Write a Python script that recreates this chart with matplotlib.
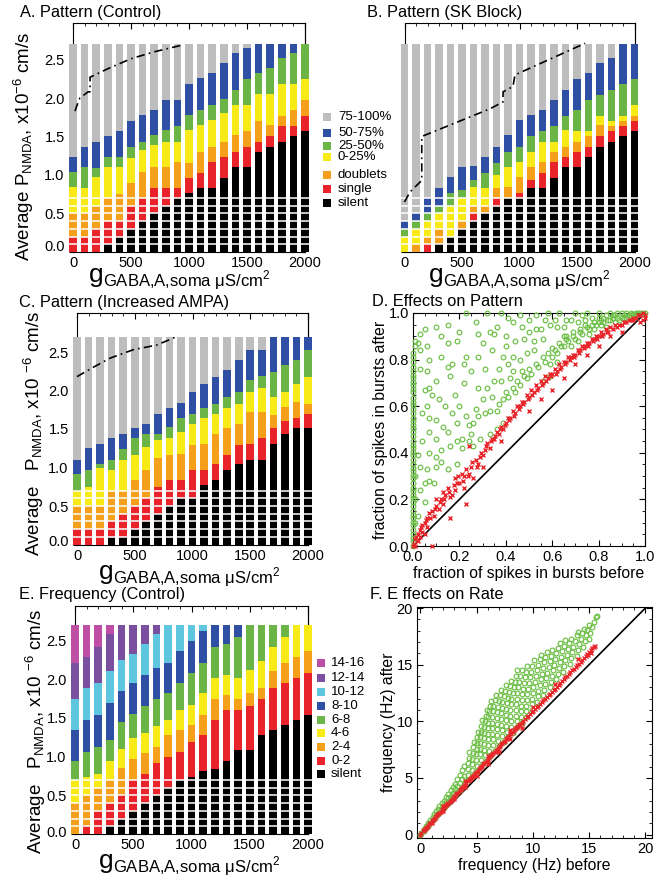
import numpy as np
import matplotlib
matplotlib.use("Agg")
import matplotlib.pyplot as plt
from matplotlib.patches import Rectangle
from matplotlib.ticker import MultipleLocator, FormatStrFormatter
import matplotlib.transforms as mtransforms

plt.rcParams['font.family'] = ['Liberation Sans', 'DejaVu Sans']
plt.rcParams['mathtext.fontset'] = 'custom'
plt.rcParams['mathtext.rm'] = 'Liberation Sans'
plt.rcParams['axes.linewidth'] = 0.8

W, H = 655, 888

# ---------------- data ----------------
gaba = [0, 100, 200, 300, 400, 500, 600, 700, 800, 900, 1000,
        1100, 1200, 1300, 1400, 1500, 1600, 1700, 1800, 1900, 2000]
P_TOP = 2.7
grid_rows = [0.1, 0.2, 0.3, 0.4, 0.5, 0.6, 0.7]

pattern_labels = ['silent', 'single', 'doublets', '0-25%', '25-50%', '50-75%', '75-100%']
pattern_colors = ['#000000', '#e8242a', '#f5a01a', '#f7ea16', '#6ab545', '#2e4fa3', '#bdbdbd']

freq_labels = ['silent', '0-2', '2-4', '4-6', '6-8', '8-10', '10-12', '12-14', '14-16']
freq_colors = ['#000000', '#e8242a', '#f5a01a', '#f7ea16', '#6ab545', '#2e4fa3',
               '#5fc6e0', '#7b4f9f', '#bf4fa4']

# top of each category in every column (x10^-6 cm/s), bottom to top
A_silent = [0, 0, 0, 0.1, 0.2, 0.3, 0.4, 0.5, 0.6, 0.7, 0.76, 0.83, 0.83, 0.96, 1.10, 1.10, 1.30, 1.37, 1.43, 1.51, 1.57]
A_single = [0.2, 0.2, 0.3, 0.4, 0.4, 0.6, 0.7, 0.83, 0.83, 0.83, 0.96, 1.03, 1.17, 1.24, 1.30, 1.37, 1.43, 1.51, 1.64, 1.64, 1.77]
A_doublet = [0.5, 0.5, 0.6, 0.7, 0.75, 0.9, 1.04, 1.10, 1.10, 1.17, 1.15, 1.30, 1.37, 1.43, 1.52, 1.57, 1.70, 1.65, 1.77, 1.85, 1.98]
A_q1 = [0.84, 0.83, 0.98, 1.11, 1.11, 1.22, 1.33, 1.39, 1.43, 1.43, 1.59, 1.65, 1.72, 1.80, 1.91, 1.91, 2.05, 2.05, 2.18, 2.18, 2.25]
A_q2 = [1.04, 1.11, 1.09, 1.24, 1.24, 1.37, 1.43, 1.52, 1.59, 1.63, 1.78, 1.85, 1.91, 1.99, 2.11, 2.25, 2.33, 2.39, 2.52, 2.59, 2.70]
A_q3 = [1.24, 1.37, 1.43, 1.51, 1.57, 1.70, 1.78, 1.85, 1.98, 1.98, 2.18, 2.26, 2.33, 2.46, 2.59, 2.65, 2.70, 2.70, 2.70, 2.70, 2.70]
A_line_x = [17, 50, 60, 130, 147, 147, 300, 500, 700, 950]
A_line_y = [1.83, 1.97, 2.00, 2.08, 2.08, 2.27, 2.38, 2.51, 2.60, 2.69]

B_silent = [0, 0, 0, 0.1, 0.2, 0.3, 0.4, 0.5, 0.6, 0.7, 0.7, 0.83, 0.83, 0.96, 1.10, 1.10, 1.24, 1.37, 1.43, 1.51, 1.57]
B_single = [0, 0, 0.1, 0.1, 0.2, 0.3, 0.5, 0.5, 0.7, 0.7, 0.76, 0.93, 1.03, 1.17, 1.24, 1.30, 1.37, 1.51, 1.57, 1.64, 1.70]
B_doublet = [0, 0.1, 0.2, 0.3, 0.2, 0.4, 0.6, 0.6, 0.83, 0.85, 0.98, 1.10, 1.17, 1.30, 1.37, 1.43, 1.51, 1.65, 1.64, 1.70, 1.77]
B_q1 = [0.2, 0.3, 0.4, 0.5, 0.6, 0.7, 0.85, 0.83, 1.0, 1.11, 1.17, 1.30, 1.43, 1.43, 1.59, 1.57, 1.57, 1.77, 1.70, 1.77, 1.91]
B_q2 = [0.3, 0.4, 0.5, 0.6, 0.77, 0.8, 0.93, 1.03, 1.15, 1.30, 1.37, 1.50, 1.57, 1.64, 1.77, 1.85, 1.98, 2.04, 2.11, 2.18, 2.25]
B_q3 = [0.4, 0.5, 0.7, 0.83, 0.98, 1.1, 1.12, 1.24, 1.37, 1.52, 1.72, 1.78, 1.85, 1.98, 2.11, 2.25, 2.33, 2.46, 2.52, 2.70, 2.70]
B_line_x = [0, 48, 150, 150, 744, 857, 857, 943, 961, 1570]
B_line_y = [0.65, 0.78, 0.93, 1.50, 1.86, 1.95, 2.08, 2.15, 2.30, 2.71]

C_silent = [0, 0, 0, 0.1, 0.1, 0.2, 0.3, 0.4, 0.5, 0.6, 0.6, 0.77, 0.84, 0.97, 1.05, 1.10, 1.10, 1.31, 1.44, 1.51, 1.51]
C_single = [0.2, 0.2, 0.2, 0.3, 0.4, 0.5, 0.6, 0.75, 0.84, 0.84, 0.97, 0.97, 1.05, 1.16, 1.29, 1.31, 1.38, 1.51, 1.60, 1.64, 1.70]
C_doublet = [0.5, 0.5, 0.5, 0.7, 0.7, 0.84, 0.97, 1.12, 1.16, 1.18, 1.29, 1.31, 1.44, 1.51, 1.57, 1.72, 1.72, 1.68, 1.79, 1.85, 1.83]
C_q1 = [0.7, 0.75, 0.99, 0.97, 1.10, 1.16, 1.27, 1.36, 1.38, 1.46, 1.56, 1.64, 1.70, 1.77, 1.83, 1.98, 2.03, 1.92, 1.98, 2.09, 2.18]
C_q2 = [0.92, 0.97, 1.05, 1.10, 1.24, 1.38, 1.44, 1.44, 1.53, 1.64, 1.70, 1.77, 1.83, 1.92, 1.98, 2.13, 2.19, 2.24, 2.33, 2.40, 2.53]
C_q3 = [1.10, 1.25, 1.31, 1.38, 1.44, 1.51, 1.57, 1.70, 1.77, 1.84, 1.98, 2.09, 2.18, 2.26, 2.40, 2.53, 2.53, 2.70, 2.70, 2.70, 2.70]
C_line_x = [0, 127, 286, 488, 690, 848]
C_line_y = [2.18, 2.29, 2.42, 2.53, 2.59, 2.69]

E_silent = [0, 0, 0, 0.1, 0.2, 0.3, 0.4, 0.5, 0.6, 0.7, 0.74, 0.81, 0.84, 0.94, 1.09, 1.09, 1.28, 1.34, 1.41, 1.47, 1.54]
E_f02 = [0, 0.1, 0.3, 0.4, 0.5, 0.7, 0.77, 0.92, 1.0, 1.06, 1.19, 1.28, 1.47, 1.60, 1.60, 1.66, 1.75, 1.88, 1.95, 2.01, 2.08]
E_f24 = [0.4, 0.5, 0.6, 0.7, 0.85, 0.97, 1.05, 1.12, 1.28, 1.34, 1.41, 1.54, 1.75, 1.80, 1.75, 1.82, 1.88, 2.10, 2.21, 2.29, 2.36]
E_f46 = [0.7, 0.74, 0.78, 0.94, 1.10, 1.24, 1.30, 1.40, 1.47, 1.60, 1.67, 1.82, 2.01, 2.05, 2.01, 2.12, 2.23, 2.42, 2.55, 2.70, 2.70]
E_f68 = [0.94, 1.06, 1.13, 1.22, 1.45, 1.55, 1.65, 1.75, 1.82, 1.95, 2.08, 2.21, 2.42, 2.45, 2.55, 2.70, 2.70, 2.70, 2.70, 2.70, 2.70]
E_f810 = [1.34, 1.47, 1.54, 1.69, 1.85, 1.95, 2.06, 2.15, 2.21, 2.36, 2.49, 2.62, 2.70, 2.70, 2.70, 2.70, 2.70, 2.70, 2.70, 2.70, 2.70]
E_f1012 = [1.75, 1.88, 1.95, 2.10, 2.25, 2.32, 2.45, 2.58, 2.70, 2.70, 2.70, 2.70, 2.70, 2.70, 2.70, 2.70, 2.70, 2.70, 2.70, 2.70, 2.70]
E_f1214 = [2.21, 2.29, 2.42, 2.59, 2.70, 2.70, 2.70, 2.70, 2.70, 2.70, 2.70, 2.70, 2.70, 2.70, 2.70, 2.70, 2.70, 2.70, 2.70, 2.70, 2.70]

# D: fraction of spikes in bursts, before vs after
D_green = [(0, 0.0), (0, 0.02), (0, 0.035), (0, 0.05), (0, 0.07), (0, 0.09), (0, 0.105), (0, 0.12),
           (0, 0.135), (0, 0.15), (0, 0.17), (0, 0.19), (0, 0.205), (0, 0.22), (0, 0.235), (0, 0.25),
           (0, 0.27), (0, 0.29), (0, 0.305), (0, 0.32), (0, 0.335), (0, 0.35), (0, 0.37), (0, 0.39),
           (0, 0.405), (0, 0.42), (0, 0.435), (0, 0.45), (0, 0.47), (0, 0.49), (0, 0.505), (0, 0.52),
           (0, 0.535), (0, 0.55), (0, 0.57), (0, 0.59), (0, 0.605), (0, 0.62), (0, 0.635), (0, 0.66),
           (0, 0.675), (0, 0.69), (0, 0.705), (0, 0.72), (0, 0.735), (0, 0.75), (0, 0.77), (0, 0.79),
           (0, 0.81), (0, 0.83), (0.01, 0.86), (0.01, 0.88), (0.01, 0.1), (0.01, 0.2), (0.01, 0.3),
           (0.03, 0.91), (0.05, 0.93), (0.10, 0.94), (0.15, 0.95), (0.23, 1.0), (0.32, 1.0), (0.38, 1.0),
           (0.15, 0.87), (0.19, 0.88), (0.07, 0.80), (0.12, 0.81), (0.23, 0.81), (0.28, 0.91),
           (0.33, 0.92), (0.35, 0.91), (0.40, 0.90), (0.43, 0.96), (0.47, 0.94), (0.50, 0.92),
           (0.58, 1.0), (0.63, 1.0), (0.59, 0.95), (0.65, 0.94), (0.68, 0.97), (0.73, 0.99),
           (0.03, 0.76), (0.06, 0.75), (0.05, 0.67), (0.07, 0.68), (0.10, 0.71), (0.15, 0.77),
           (0.17, 0.78), (0.22, 0.78), (0.28, 0.81), (0.31, 0.76), (0.35, 0.71), (0.38, 0.71),
           (0.28, 0.68), (0.32, 0.68), (0.07, 0.55), (0.10, 0.54), (0.17, 0.57), (0.20, 0.60),
           (0.13, 0.51), (0.15, 0.49), (0.24, 0.52), (0.26, 0.53), (0.28, 0.56), (0.31, 0.57),
           (0.33, 0.58), (0.36, 0.58), (0.39, 0.63), (0.40, 0.66), (0.43, 0.68), (0.45, 0.71),
           (0.48, 0.73), (0.50, 0.76), (0.53, 0.78), (0.56, 0.81), (0.58, 0.83), (0.61, 0.84),
           (0.63, 0.87), (0.66, 0.89), (0.69, 0.90), (0.72, 0.92), (0.75, 0.94), (0.48, 0.89),
           (0.52, 0.84), (0.56, 0.89), (0.39, 0.81), (0.43, 0.81), (0.47, 0.75), (0.43, 0.75),
           (0.12, 0.41), (0.16, 0.43), (0.19, 0.45), (0.21, 0.46), (0.07, 0.40), (0.10, 0.38),
           (0.06, 0.33), (0.03, 0.34), (0.05, 0.27), (0.07, 0.28), (0.03, 0.24), (0.10, 0.34),
           (0.15, 0.33), (0.25, 0.48), (0.19, 0.35), (0.29, 0.46), (0.26, 0.43), (0.33, 0.48),
           (0.36, 0.50), (0.39, 0.53), (0.03, 0.84), (0.06, 0.86), (0.02, 0.87), (0.07, 0.49),
           (0.10, 0.46), (0.62, 0.94), (0.71, 0.96), (0.78, 0.96), (0.81, 0.97), (0.86, 0.98),
           (0.91, 0.98), (0.95, 0.99), (0.65, 0.90), (0.53, 0.93), (0.68, 0.86), (0.71, 0.88),
           (0.59, 0.78), (0.62, 0.79), (0.56, 0.71), (0.59, 0.73),
           (0.70, 1.0), (0.75, 1.0), (0.80, 1.0), (0.85, 1.0), (0.88, 1.0), (0.90, 1.0), (0.92, 1.0),
           (0.94, 1.0), (0.96, 1.0), (0.98, 1.0), (1.0, 1.0), (0.74, 0.97), (0.77, 0.98), (0.80, 0.96),
           (0.82, 0.98), (0.84, 0.97), (0.86, 0.99), (0.78, 0.93), (0.81, 0.95), (0.83, 0.94),
           (0.87, 0.96), (0.90, 0.98), (0.93, 0.99), (0.95, 0.995), (0.97, 1.0), (0.76, 0.91),
           (0.72, 0.93), (0.69, 0.92), (0.66, 0.90), (0.64, 0.86), (0.60, 0.85),
           (0.41, 0.64), (0.44, 0.66), (0.46, 0.69), (0.49, 0.72), (0.51, 0.74), (0.54, 0.77),
           (0.57, 0.79), (0.60, 0.81), (0.62, 0.83), (0.65, 0.86), (0.67, 0.88), (0.70, 0.89),
           (0.73, 0.91), (0.76, 0.93), (0.79, 0.95), (0.82, 0.96), (0.85, 0.97), (0.88, 0.98),
           (0.91, 0.99), (0.94, 0.99), (0.97, 0.995), (0.99, 1.0), (0.74, 0.95), (0.77, 0.95),
           (0.80, 0.98), (0.83, 0.99), (0.87, 0.99), (0.89, 0.97), (0.92, 0.98),
           (0.09, 0.27), (0.12, 0.36), (0.14, 0.60), (0.18, 0.65), (0.22, 0.70), (0.25, 0.75),
           (0.11, 0.63), (0.21, 0.42), (0.24, 0.45), (0.27, 0.59), (0.34, 0.64), (0.37, 0.61),
           (0.42, 0.72), (0.46, 0.80), (0.49, 0.83), (0.52, 0.88), (0.55, 0.93), (0.57, 0.97),
           (0.46, 0.99), (0.50, 0.97), (0.27, 0.96), (0.20, 0.92), (0.12, 0.90), (0.08, 0.65),
           (0.04, 0.57), (0.04, 0.45), (0.02, 0.39), (0.05, 0.19), (0.02, 0.13), (0.16, 0.73),
           (0.30, 0.87), (0.34, 0.84), (0.40, 0.86), (0.44, 0.88), (0.37, 0.76), (0.41, 0.78),
           (0.30, 0.63), (0.19, 0.53), (0.23, 0.56), (0.06, 0.60), (0.36, 0.94), (0.41, 0.98),
           (0.53, 0.99), (0.61, 0.97), (0.66, 0.97)]
D_red = [(0.0, 0.0), (0.005, 0.01), (0.01, 0.03), (0.01, 0.0), (0.02, 0.05), (0.02, 0.02), (0.03, 0.07),
         (0.03, 0.04), (0.04, 0.09), (0.04, 0.06), (0.05, 0.10), (0.05, 0.05), (0.06, 0.12), (0.06, 0.08),
         (0.07, 0.14), (0.08, 0.15), (0.08, 0.0), (0.09, 0.13), (0.10, 0.17), (0.10, 0.20), (0.11, 0.16),
         (0.12, 0.20), (0.13, 0.18), (0.13, 0.23), (0.14, 0.22), (0.15, 0.25), (0.16, 0.21), (0.16, 0.12),
         (0.17, 0.22), (0.18, 0.24), (0.18, 0.29), (0.19, 0.27), (0.20, 0.27), (0.21, 0.31), (0.22, 0.30),
         (0.22, 0.25), (0.23, 0.18), (0.23, 0.33), (0.24, 0.31), (0.24, 0.43), (0.25, 0.34), (0.26, 0.29),
         (0.27, 0.37), (0.28, 0.35), (0.29, 0.38), (0.30, 0.39), (0.30, 0.34), (0.31, 0.41), (0.32, 0.44),
         (0.33, 0.42), (0.34, 0.46), (0.35, 0.46), (0.36, 0.49), (0.37, 0.48), (0.38, 0.45), (0.38, 0.51),
         (0.39, 0.50), (0.40, 0.53), (0.41, 0.55), (0.42, 0.55), (0.43, 0.58), (0.44, 0.57), (0.45, 0.60),
         (0.46, 0.60), (0.47, 0.62), (0.48, 0.62), (0.49, 0.65), (0.50, 0.64), (0.50, 0.58), (0.51, 0.67),
         (0.52, 0.66), (0.53, 0.69), (0.54, 0.68), (0.55, 0.63), (0.55, 0.71), (0.56, 0.70), (0.57, 0.73),
         (0.58, 0.72), (0.59, 0.74), (0.60, 0.74), (0.60, 0.67), (0.61, 0.76), (0.62, 0.75), (0.63, 0.78),
         (0.64, 0.77), (0.65, 0.72), (0.65, 0.79), (0.66, 0.79), (0.67, 0.81), (0.68, 0.81), (0.69, 0.82),
         (0.70, 0.82), (0.70, 0.78), (0.71, 0.84), (0.72, 0.84), (0.73, 0.86), (0.74, 0.86), (0.75, 0.82),
         (0.75, 0.87), (0.76, 0.87), (0.77, 0.89), (0.78, 0.89), (0.79, 0.90), (0.80, 0.90), (0.80, 0.86),
         (0.81, 0.92), (0.82, 0.91), (0.83, 0.93), (0.84, 0.92), (0.85, 0.90), (0.85, 0.94), (0.86, 0.93),
         (0.87, 0.95), (0.88, 0.94), (0.89, 0.95), (0.90, 0.95), (0.90, 0.92), (0.91, 0.96), (0.92, 0.96),
         (0.93, 0.97), (0.94, 0.97), (0.95, 0.97), (0.95, 0.98), (0.96, 0.98), (0.97, 0.99), (0.98, 0.99),
         (0.99, 1.0), (1.0, 0.98), (1.0, 0.99), (0.99, 0.97), (0.98, 0.96),
         (0.015, 0.04), (0.035, 0.08), (0.055, 0.11), (0.075, 0.12), (0.095, 0.16), (0.115, 0.19),
         (0.135, 0.20), (0.155, 0.23), (0.175, 0.26), (0.195, 0.30), (0.215, 0.28), (0.235, 0.30),
         (0.255, 0.36), (0.275, 0.34), (0.295, 0.40), (0.315, 0.43), (0.335, 0.45), (0.355, 0.47),
         (0.375, 0.50), (0.395, 0.52), (0.415, 0.54), (0.435, 0.56), (0.455, 0.59), (0.475, 0.61),
         (0.495, 0.63), (0.515, 0.65), (0.535, 0.67), (0.555, 0.69), (0.575, 0.71), (0.595, 0.73),
         (0.615, 0.74), (0.635, 0.76), (0.655, 0.78), (0.675, 0.80), (0.695, 0.81), (0.715, 0.83),
         (0.735, 0.85), (0.755, 0.86), (0.775, 0.88), (0.795, 0.89), (0.815, 0.90), (0.835, 0.92)]

# F: firing rate before vs after (Hz)
F_green = [(0, 0), (0.1, 0.15), (0.3, 0.35), (0.3, 0.5), (0.5, 0.6), (0.5, 0.8), (0.7, 0.8), (0.7, 1.05),
           (0.9, 1.0), (0.9, 1.3), (1.1, 1.25), (1.1, 1.55), (1.2, 1.8), (1.3, 1.45), (1.4, 1.7),
           (1.4, 2.05), (1.6, 1.85), (1.6, 2.25), (1.7, 2.5), (1.8, 2.1), (1.9, 2.4), (1.9, 2.75),
           (2.1, 2.35), (2.1, 2.65), (2.1, 3.0), (2.3, 2.6), (2.3, 2.9), (2.3, 3.3), (2.5, 2.85),
           (2.5, 3.2), (2.5, 3.6), (2.7, 3.05), (2.7, 3.45), (2.7, 3.9), (2.9, 3.3), (2.9, 3.7),
           (2.9, 4.2), (3.1, 3.5), (3.1, 4.0), (3.1, 4.5), (3.3, 3.75), (3.3, 4.3), (3.3, 4.9),
           (3.5, 3.95), (3.5, 4.6), (3.5, 5.3), (3.7, 4.2), (3.7, 4.9), (3.7, 5.7), (3.9, 4.45),
           (3.9, 5.2), (3.9, 6.1),
           (4.2, 4.8), (4.2, 5.3), (4.2, 5.8), (4.25, 6.3), (4.3, 6.8), (4.35, 7.3),
           (4.6, 5.2), (4.6, 5.7), (4.6, 6.2), (4.6, 6.7), (4.65, 7.2), (4.7, 7.7), (4.75, 8.2),
           (5.0, 5.6), (5.0, 6.1), (4.95, 6.6), (4.95, 7.1), (5.0, 7.6), (5.0, 8.1), (5.05, 8.6), (5.1, 9.1),
           (5.4, 6.1), (5.35, 6.6), (5.3, 7.1), (5.3, 7.6), (5.3, 8.1), (5.3, 8.6), (5.35, 9.1), (5.4, 9.6),
           (5.45, 10.1),
           (5.8, 6.5), (5.75, 7.0), (5.7, 7.5), (5.65, 8.0), (5.65, 8.5), (5.65, 9.0), (5.7, 9.5),
           (5.75, 10.0), (5.8, 10.5), (5.9, 11.0),
           (6.2, 6.9), (6.1, 7.4), (6.05, 7.9), (6.0, 8.4), (6.0, 8.9), (6.0, 9.4), (6.0, 9.9),
           (6.05, 10.4), (6.1, 10.9), (6.2, 11.4), (6.3, 11.8),
           (6.6, 7.4), (6.5, 7.9), (6.45, 8.4), (6.4, 8.9), (6.4, 9.4), (6.4, 9.9), (6.4, 10.4),
           (6.45, 10.9), (6.5, 11.4), (6.6, 11.9), (6.7, 12.3),
           (7.0, 7.8), (6.9, 8.3), (6.85, 8.8), (6.8, 9.3), (6.8, 9.8), (6.8, 10.3), (6.85, 10.8),
           (6.9, 11.3), (6.95, 11.8), (7.05, 12.3), (7.15, 12.8),
           (7.4, 8.2), (7.3, 8.7), (7.25, 9.2), (7.2, 9.7), (7.2, 10.2), (7.2, 10.7), (7.25, 11.2),
           (7.3, 11.7), (7.4, 12.2), (7.5, 12.7), (7.6, 13.2),
           (7.8, 8.6), (7.7, 9.1), (7.65, 9.6), (7.6, 10.1), (7.6, 10.6), (7.65, 11.1), (7.7, 11.6),
           (7.75, 12.1), (7.85, 12.6), (7.95, 13.1), (8.05, 13.6),
           (8.2, 9.0), (8.1, 9.5), (8.05, 10.0), (8.0, 10.5), (8.0, 11.0), (8.05, 11.5), (8.1, 12.0),
           (8.2, 12.5), (8.3, 13.0), (8.4, 13.5), (8.5, 14.0), (8.6, 14.5),
           (8.6, 9.5), (8.55, 10.0), (8.5, 10.5), (8.5, 11.0), (8.5, 11.5), (8.55, 12.0), (8.6, 12.5),
           (8.7, 13.0), (8.8, 13.5), (8.9, 14.0), (9.0, 14.5),
           (9.0, 9.9), (8.95, 10.4), (8.95, 10.9), (8.95, 11.4), (9.0, 11.9), (9.05, 12.4), (9.1, 12.9),
           (9.2, 13.4), (9.3, 13.9), (9.4, 14.4), (9.5, 14.9),
           (9.4, 10.4), (9.4, 10.9), (9.4, 11.4), (9.45, 11.9), (9.5, 12.4), (9.55, 12.9), (9.65, 13.4),
           (9.75, 13.9), (9.85, 14.4), (9.95, 14.9), (10.1, 15.4),
           (9.9, 11.0), (9.9, 11.5), (9.95, 12.0), (10.0, 12.5), (10.05, 13.0), (10.15, 13.5),
           (10.25, 14.0), (10.35, 14.5), (10.45, 15.0), (10.6, 15.5), (10.7, 15.9),
           (10.4, 11.7), (10.45, 12.2), (10.5, 12.7), (10.6, 13.2), (10.7, 13.7), (10.8, 14.2),
           (10.9, 14.7), (11.0, 15.2), (11.1, 15.7), (11.25, 16.1),
           (10.9, 12.3), (11.0, 12.8), (11.1, 13.3), (11.2, 13.8), (11.3, 14.3), (11.4, 14.8),
           (11.5, 15.3), (11.6, 15.8), (11.75, 16.3),
           (11.5, 13.0), (11.6, 13.5), (11.7, 14.0), (11.8, 14.5), (11.9, 15.0), (12.0, 15.5),
           (12.1, 16.0), (12.25, 16.5), (12.4, 16.9),
           (12.1, 13.7), (12.2, 14.2), (12.3, 14.7), (12.4, 15.2), (12.5, 15.7), (12.6, 16.2),
           (12.75, 16.7), (12.9, 17.2),
           (12.7, 14.4), (12.8, 14.9), (12.9, 15.4), (13.0, 15.9), (13.1, 16.4), (13.25, 16.9), (13.4, 17.3),
           (13.3, 15.1), (13.4, 15.6), (13.5, 16.1), (13.6, 16.6), (13.75, 17.1), (13.9, 17.6), (14.0, 17.9),
           (13.9, 15.8), (14.0, 16.3), (14.1, 16.8), (14.25, 17.3), (14.4, 17.8), (14.55, 18.2),
           (14.5, 16.6), (14.6, 17.1), (14.7, 17.6), (14.85, 18.1), (15.0, 18.5),
           (15.0, 17.3), (15.1, 17.8), (15.25, 18.3), (15.4, 18.8), (15.6, 19.2), (15.7, 19.3)]
F_red = [(0, 0), (0.2, 0.3), (0.4, 0.5), (0.6, 0.7), (0.8, 0.9), (1.0, 1.2), (1.2, 1.4), (1.4, 1.6),
         (1.6, 1.8), (1.8, 2.0), (2.0, 2.3), (2.2, 2.5), (2.4, 2.7), (2.6, 2.9), (2.8, 3.1), (3.0, 3.3),
         (3.2, 3.6), (3.4, 3.8), (3.6, 4.0), (3.8, 4.2), (4.0, 4.4), (4.2, 4.7), (4.4, 4.9), (4.6, 5.1),
         (4.8, 5.3), (5.0, 5.5), (5.2, 5.8), (5.4, 6.0), (5.6, 6.2), (5.8, 6.4), (6.0, 6.6), (6.2, 6.9),
         (6.4, 7.1), (6.6, 7.3), (6.8, 7.5), (7.0, 7.7), (7.2, 8.0), (7.4, 8.2), (7.6, 8.4), (7.8, 8.6),
         (8.0, 8.9), (8.2, 9.1), (8.4, 9.3), (8.6, 9.5), (8.8, 9.7), (9.0, 9.9), (9.3, 10.2), (9.6, 10.5),
         (9.9, 10.8), (10.2, 11.1), (10.5, 11.4), (10.8, 11.7), (11.1, 12.0), (11.4, 12.3), (11.7, 12.6),
         (12.0, 12.9), (12.3, 13.2), (12.6, 13.6), (12.9, 13.9), (13.2, 14.2), (13.5, 14.5), (13.8, 14.8),
         (14.1, 15.1), (14.4, 15.4), (14.7, 15.8), (15.0, 16.1), (15.3, 16.5), (15.5, 16.7), (15.2, 16.0),
         (14.9, 15.9), (1.0, 1.05), (2.0, 2.1), (3.0, 3.15), (4.0, 4.2), (5.0, 5.2), (6.0, 6.25),
         (7.0, 7.3), (8.0, 8.4), (9.0, 9.4), (2.0, 2.5), (4.0, 4.7), (6.0, 6.9), (8.0, 9.2),
         (10.0, 11.3), (12.0, 13.3), (14.0, 15.5),
         (0.1, 0.15), (0.3, 0.4), (0.5, 0.6), (0.7, 0.8), (0.9, 1.05), (1.1, 1.3), (1.3, 1.5), (1.5, 1.7),
         (1.7, 1.9), (1.9, 2.15), (2.1, 2.4), (2.3, 2.6), (2.5, 2.8), (2.7, 3.0), (2.9, 3.2), (3.1, 3.45),
         (3.3, 3.7), (3.5, 3.9), (3.7, 4.1), (3.9, 4.3), (4.1, 4.55), (4.3, 4.8), (4.5, 5.0), (4.7, 5.2),
         (4.9, 5.4), (5.1, 5.65), (5.3, 5.9), (5.5, 6.1), (5.7, 6.3), (5.9, 6.5), (6.1, 6.75), (6.3, 7.0),
         (6.5, 7.2), (6.7, 7.4), (6.9, 7.6), (7.1, 7.85), (7.3, 8.1), (7.5, 8.3), (7.7, 8.5), (7.9, 8.75),
         (8.1, 9.0), (8.3, 9.2), (8.5, 9.4), (8.7, 9.6), (8.9, 9.8), (9.15, 10.05), (9.45, 10.35),
         (9.75, 10.65), (10.05, 10.95), (10.35, 11.25), (10.65, 11.55), (10.95, 11.85), (11.25, 12.15),
         (11.55, 12.45), (11.85, 12.75), (12.15, 13.05), (12.45, 13.4), (12.75, 13.75), (13.05, 14.05),
         (13.35, 14.35), (13.65, 14.65), (13.95, 14.95), (14.25, 15.25), (14.55, 15.6), (14.85, 15.95),
         (15.15, 16.3), (15.45, 16.6)]


# ---------------- drawing ----------------
fig = plt.figure(figsize=(W / 100, H / 100), dpi=100)


def px_rect(x0, x1, y_top, y_bot):
    return [x0 / W, 1 - y_bot / H, (x1 - x0) / W, (y_bot - y_top) / H]


def gaba_label(gx, gy, sx, sy):
    # big "g" with its long subscript, positions in pixels (baselines)
    fig.text(gx / W, 1 - gy / H, 'g', fontsize=19, ha='left', va='baseline')
    fig.text(sx / W, 1 - sy / H, r'GABA,A,soma μS/cm$^{\mathregular{2}}$', fontsize=12,
             ha='left', va='baseline')


def stacked_grid(rect, ytop, tops, colors, line=None, ylab=None, lab_xy=None, zero_shift=5):
    ax = fig.add_axes(rect)
    bottom = np.zeros(len(gaba))
    for top, col in zip(tops + [[P_TOP] * len(gaba)], colors):
        top = np.maximum(np.asarray(top, float), bottom)
        ax.bar(gaba, top - bottom, bottom=bottom, width=66, color=col,
               linewidth=0, clip_on=False, zorder=3)
        bottom = top
    for yv in grid_rows:
        ax.plot([-45, 2045], [yv, yv], color='white', lw=1.1, clip_on=False, zorder=4)
    if line is not None:
        ax.plot(line[0], line[1], color='k', lw=1.2, ls=(0, (5, 2.5, 1, 2.5)),
                zorder=5, clip_on=False)
    ax.set_xlim(0, 2000)
    ax.set_ylim(0, ytop)
    ax.set_xticks([0, 500, 1000, 1500, 2000])
    ax.xaxis.set_minor_locator(MultipleLocator(100))
    ax.tick_params(axis='x', which='both', bottom=False, top=True, direction='in',
                   labelsize=10.5, pad=3)
    ax.tick_params(axis='x', which='major', length=4)
    ax.tick_params(axis='x', which='minor', length=2)
    ax.set_yticks([0, 0.5, 1.0, 1.5, 2.0, 2.5])
    ax.tick_params(axis='y', direction='out', length=3, labelsize=10.5, pad=3,
                   labelleft=ylab is not None)
    sec = ax.secondary_yaxis('right')
    sec.set_yticks([0, 0.5, 1.0, 1.5, 2.0, 2.5])
    sec.tick_params(direction='in', length=3, labelright=False)
    ax.yaxis.set_major_formatter(FormatStrFormatter('%.1f'))
    if ylab is not None:
        ax.set_ylabel(ylab, fontsize=13.5)
        ax.yaxis.label.set_va('center')
        ax.yaxis.set_label_coords(*lab_xy)
        t0 = ax.yaxis.get_major_ticks()[0].label1
        t0.set_transform(t0.get_transform() +
                         mtransforms.ScaledTranslation(0, zero_shift / 72, fig.dpi_scale_trans))
    return ax


ylab_A = r'Average $\mathregular{P_{NMDA}}$, x10$^{\mathregular{-6}}$ cm/s'
ylab_C = r'Average   $\mathregular{P_{NMDA}}$, x10 $^{\mathregular{-6}}$ cm/s'

axA = stacked_grid(px_rect(73, 305, 23, 252), 229 / 77,
                   [A_silent, A_single, A_doublet, A_q1, A_q2, A_q3], pattern_colors,
                   line=(A_line_x, A_line_y), ylab=ylab_A, lab_xy=(-0.215, 0.463))
axB = stacked_grid(px_rect(404.5, 634.5, 23, 252), 229 / 77,
                   [B_silent, B_single, B_doublet, B_q1, B_q2, B_q3], pattern_colors,
                   line=(B_line_x, B_line_y), ylab=None)
axC = stacked_grid(px_rect(77, 308, 313, 544.5), 231.5 / 77,
                   [C_silent, C_single, C_doublet, C_q1, C_q2, C_q3], pattern_colors,
                   line=(C_line_x, C_line_y), ylab=ylab_C, zero_shift=3, lab_xy=(-0.19, 0.48))
axE = stacked_grid(px_rect(75, 308, 606, 834), 228 / 77.4,
                   [E_silent, E_f02, E_f24, E_f46, E_f68, E_f810, E_f1012, E_f1214], freq_colors,
                   ylab=ylab_C, zero_shift=2, lab_xy=(-0.17, 0.45))

gaba_label(89, 282, 103, 286)
gaba_label(429, 282, 443, 286)
gaba_label(99, 579, 113, 583)
gaba_label(99, 868, 113, 872)


def scatter_axes(rect, green, red, lim_x, lim_y, major, minor, fmt, xlab, ylab, diag):
    ax = fig.add_axes(rect)
    g = np.array(green)
    r = np.array(red)
    ax.plot([0, diag], [0, diag], color='k', lw=1.2, zorder=2)
    ax.plot(g[:, 0], g[:, 1], 'o', mfc='none', mec='#6cbf45', ms=3.4, mew=0.85, zorder=3,
            clip_on=False)
    ax.plot(r[:, 0], r[:, 1], 'x', color='#e8262b', ms=3.5, mew=1.0, zorder=4, clip_on=False)
    ax.set_xlim(*lim_x)
    ax.set_ylim(*lim_y)
    ax.xaxis.set_major_locator(MultipleLocator(major))
    ax.yaxis.set_major_locator(MultipleLocator(major))
    ax.xaxis.set_minor_locator(MultipleLocator(minor))
    ax.yaxis.set_minor_locator(MultipleLocator(minor))
    ax.xaxis.set_major_formatter(FormatStrFormatter(fmt))
    ax.yaxis.set_major_formatter(FormatStrFormatter(fmt))
    ax.tick_params(which='both', direction='in', top=True, right=True, labelsize=10.5)
    ax.tick_params(which='major', length=4, pad=3)
    ax.tick_params(which='minor', length=2)
    ax.set_xlabel(xlab, fontsize=11.3, labelpad=1)
    ax.set_ylabel(ylab, fontsize=11.3, labelpad=0)
    return ax


axD = scatter_axes(px_rect(413, 645, 313, 546), D_green, D_red, (0, 1), (0, 1), 0.2, 0.05,
                   '%.1f', 'fraction of spikes in bursts before',
                   'fraction of spikes in bursts after', 1.0)
axF = scatter_axes(px_rect(417, 652, 607, 838), F_green, F_red, (-0.3, 20.6), (-0.3, 20.1),
                   5, 1, '%d', 'frequency (Hz) before', 'frequency (Hz) after', 20)

# panel titles
titles = ['A. Pattern (Control)', 'B. Pattern (SK Block)', 'C. Pattern (Increased AMPA)',
          'D. Effects on Pattern', 'E. Frequency (Control)', 'F. E ffects on Rate']
title_pos = [(20, 12), (367, 12), (19, 302), (372, 301), (19, 594), (370, 594)]
for t, (x, y) in zip(titles, title_pos):
    fig.text(x / W, 1 - y / H, t, fontsize=11.8, ha='left', va='center')


# legends (layout in pixels)
def square_legend(labels, colors, ys, x_sq, x_txt, size=8):
    for lab, col, y in zip(labels, colors, ys):
        fig.patches.append(Rectangle((x_sq / W, 1 - (y + size / 2) / H), size / W, size / H,
                                     transform=fig.transFigure, color=col, lw=0))
        fig.text(x_txt / W, 1 - y / H, lab, fontsize=9.5, ha='left', va='center')


square_legend(pattern_labels[::-1], pattern_colors[::-1],
              [117, 133, 146, 157, 175, 189, 203], 323, 338)
square_legend(freq_labels[::-1], freq_colors[::-1],
              [663, 678, 692, 706, 720, 733, 747, 761, 774], 317, 331)

fig.savefig('out.png', dpi=100)
